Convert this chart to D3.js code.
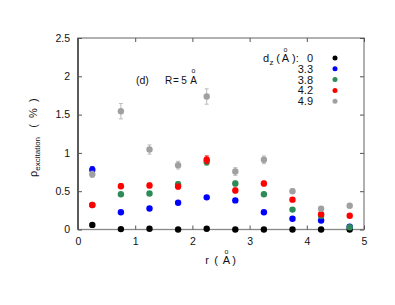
<!DOCTYPE html>
<html><head><meta charset="utf-8">
<script src="https://cdn.jsdelivr.net/npm/d3@7"></script>
<style>body{margin:0;background:#fff}svg{display:block}text{font-family:"Liberation Sans",Arial,sans-serif;white-space:pre}</style>
</head><body><svg id="c" width="395" height="305"></svg>
<script>
const rValues = [0.25, 0.75, 1.25, 1.75, 2.25, 2.75, 3.25, 3.75, 4.25, 4.75];
const seriesNames = ["0", "3.3", "3.8", "4.2", "4.9"];
const seriesColors = ["#000000", "#0000ff", "#2e8b57", "#ff0000", "#a0a0a0"];
const dz0  = [0.06, 0.005, 0.01, 0.0, 0.01, 0.0, 0.0, 0.0, 0.0, 0.0];
const dz33 = [0.78, 0.226, 0.274, 0.35, 0.42, 0.38, 0.226, 0.14, 0.117, 0.035];
const dz38 = [0.32, 0.46, 0.47, 0.59, 0.88, 0.60, 0.46, 0.26, 0.18, 0.03];
const dz42 = [0.32, 0.565, 0.575, 0.56, 0.91, 0.51, 0.60, 0.39, 0.20, 0.18];
const dz49 = [0.72, 1.544, 1.044, 0.84, 1.736, 0.757, 0.91, 0.50, 0.27, 0.31];
const err0  = [0.01, 0.01, 0.01, 0.01, 0.01, 0.01, 0.01, 0.01, 0.01, 0.01];
const err33 = [0.04, 0.02, 0.02, 0.02, 0.02, 0.02, 0.02, 0.02, 0.02, 0.02];
const err38 = [0.02, 0.02, 0.02, 0.03, 0.04, 0.03, 0.02, 0.02, 0.02, 0.02];
const err42 = [0.02, 0.03, 0.03, 0.03, 0.05, 0.03, 0.03, 0.02, 0.02, 0.02];
const err49 = [0.04, 0.10, 0.06, 0.05, 0.10, 0.05, 0.05, 0.03, 0.02, 0.02];
const xTicks = [0, 1, 2, 3, 4, 5];
const yTicks = [0, 0.5, 1, 1.5, 2, 2.5];

const series = [dz0, dz33, dz38, dz42, dz49];
const errs = [err0, err33, err38, err42, err49];

const svg = d3.select("#c");
const L = 78, R = 364, T = 38, B = 229.5;
const x = d3.scaleLinear().domain([0, 5]).range([L, R]);
const y = d3.scaleLinear().domain([0, 2.5]).range([B, T]);

// frame
svg.append("rect").attr("x", L).attr("y", T).attr("width", R - L).attr("height", B - T)
  .attr("fill", "none").attr("stroke", "#888").attr("stroke-width", 1.3);
svg.append("line").attr("x1", L).attr("x2", L).attr("y1", T).attr("y2", B).attr("stroke", "#222").attr("stroke-width", 1.2);

const tickLen = 4;
const fmt = d => d3.format("~g")(d);
const xa = svg.append("g").attr("transform", `translate(0,${B})`)
  .call(d3.axisBottom(x).tickValues(xTicks).tickSize(-tickLen).tickPadding(8).tickFormat(fmt));
const xt = svg.append("g").attr("transform", `translate(0,${T})`)
  .call(d3.axisTop(x).tickValues(xTicks).tickSize(-tickLen).tickFormat(""));
const ya = svg.append("g").attr("transform", `translate(${L},0)`)
  .call(d3.axisLeft(y).tickValues(yTicks).tickSize(-tickLen).tickPadding(8).tickFormat(fmt));
const yr = svg.append("g").attr("transform", `translate(${R},0)`)
  .call(d3.axisRight(y).tickValues(yTicks).tickSize(-tickLen).tickFormat(""));
[xa, xt, ya, yr].forEach(g => {
  g.select(".domain").remove();
  g.selectAll(".tick line").attr("stroke", "#555");
  g.selectAll("text").attr("font-size", 10.5).attr("fill", "#111")
    .attr("font-family", "'Liberation Sans',Arial,sans-serif");
});

// data
series.forEach((vals, si) => {
  const g = svg.append("g");
  const col = seriesColors[si];
  const ecol = si === 0 ? "#555" : (si === 4 ? "#bbb" : d3.color(col).brighter(0.6).formatHex());
  vals.forEach((v, i) => {
    const e = errs[si][i];
    const cx = x(rValues[i]);
    g.append("line").attr("x1", cx).attr("x2", cx).attr("y1", y(v - e)).attr("y2", y(v + e))
      .attr("stroke", ecol).attr("stroke-width", 1);
    [v - e, v + e].forEach(w => g.append("line").attr("x1", cx - 2).attr("x2", cx + 2)
      .attr("y1", y(w)).attr("y2", y(w)).attr("stroke", ecol).attr("stroke-width", 1));
  });
  g.selectAll("circle").data(vals).join("circle")
    .attr("cx", (d, i) => x(rValues[i])).attr("cy", d => y(d)).attr("r", 3.2).attr("fill", col);
});

function txt(xp, yp, s, size, anchor) {
  return svg.append("text").attr("x", xp).attr("y", yp).attr("font-size", size || 11)
    .attr("fill", "#111").attr("text-anchor", anchor || "start").text(s);
}

// x label
txt(207, 264, "r", 11, "middle");
txt(216, 264, "(", 11, "middle");
txt(226.5, 264, "A", 11, "middle");
txt(234, 264, ")", 11, "middle");
txt(226.5, 253.5, "o", 7, "middle");

// y label
const yl = svg.append("text").attr("transform", "translate(37,177) rotate(-90)").attr("text-anchor", "start").attr("font-size", 11).attr("fill", "#111");
yl.append("tspan").text("ρ");
yl.append("tspan").attr("font-size", 8).attr("dy", 3).text("excitation");
yl.append("tspan").attr("dy", -3).text("   (  %  )");

// annotation
txt(136, 84, "(d)", 10.5);
txt(168.5, 84, "R", 10, "middle");
txt(176, 84, "=", 10, "middle");
txt(184, 84, "5", 10, "middle");
txt(193.5, 84, "A", 10, "middle");
txt(193.5, 72.5, "o", 7, "middle");

// legend
const lx = 313, ldx = 335, ly0 = 58, ldy = 10.8;
txt(263, ly0 + 4, "d", 11);
txt(269.5, ly0 + 7, "z", 8);
txt(278, ly0 + 4, "(", 11, "middle");
txt(285.5, ly0 + 4, "A", 11, "middle");
txt(292, ly0 + 4, "):", 11, "start");
txt(285.5, 52, "o", 7, "middle");
seriesNames.forEach((n, i) => {
  txt(lx, ly0 + i * ldy + 4, n, 11, "end");
  svg.append("circle").attr("cx", ldx).attr("cy", ly0 + i * ldy).attr("r", 2.5).attr("fill", seriesColors[i]);
});
</script></body></html>
